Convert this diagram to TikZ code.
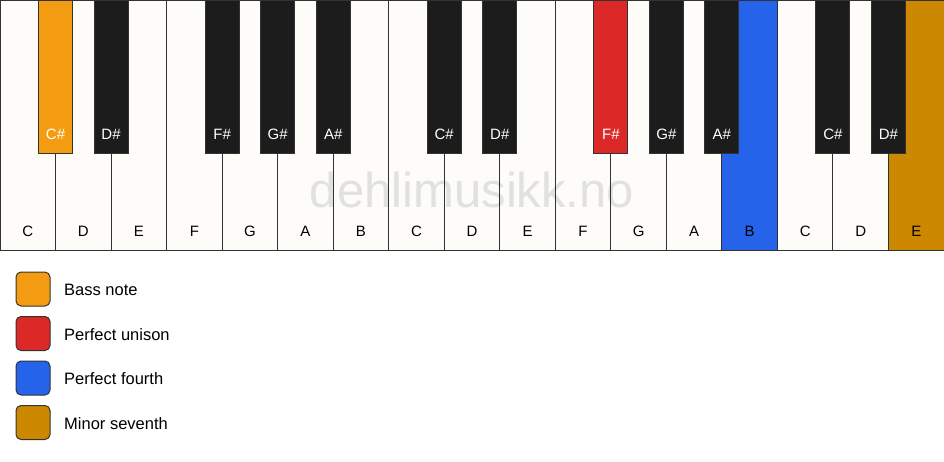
\documentclass[tikz,border=0pt]{standalone}
\usepackage{fontspec}
\setmainfont{Liberation Sans}
\definecolor{whitekey}{HTML}{FDFCF9}
\definecolor{blackkey}{HTML}{1C1C1C}
\definecolor{keyline}{HTML}{333333}
\definecolor{bassc}{HTML}{F39C12}
\definecolor{unisonc}{HTML}{DD2828}
\definecolor{fourthc}{HTML}{2563EB}
\definecolor{seventhc}{HTML}{CC8800}
\definecolor{wmark}{HTML}{E1E1E1}
\tikzset{
  wkey/.style={fill=whitekey, draw=none, minimum width=55.53pt, minimum height=250pt, anchor=north west, inner sep=0pt, outer sep=0pt},
  bkey/.style={fill=blackkey, draw=keyline, line width=1pt, minimum width=34pt, minimum height=153pt, anchor=north, inner sep=0pt, outer sep=0pt},
  wlabel/.style={anchor=base, inner sep=0pt, font=\fontsize{15}{18}\selectfont, text=black},
  blabel/.style={anchor=base, inner sep=0pt, font=\fontsize{15}{18}\selectfont, text=white},
  legbox/.style={draw=keyline, line width=1pt, rounded corners=5pt, minimum width=34pt, minimum height=34pt, inner sep=0pt},
  legtext/.style={anchor=west, inner sep=0pt, font=\fontsize{16.5}{19}\selectfont, text=black},
}
\begin{document}
\begin{tikzpicture}[x=1pt,y=-1pt]
\fill[white] (0,0) rectangle (944,461);
\useasboundingbox (0,0) rectangle (944,461);
% white keys fill
\foreach \n/\c in {0/whitekey,1/whitekey,2/whitekey,3/whitekey,4/whitekey,5/whitekey,6/whitekey,7/whitekey,8/whitekey,9/whitekey,10/whitekey,11/whitekey,12/whitekey,13/fourthc,14/whitekey,15/whitekey,16/seventhc}
  \node[wkey, fill=\c] (w\n) at ({\n*55.53},0) {};
% watermark
\node[anchor=base, inner sep=0pt, text=wmark, font=\fontsize{49}{52}\selectfont] (wm) at (472,207) {dehlimusikk.no};
% white key borders
\foreach \n in {0,...,16}
  \draw[keyline, line width=1pt] (w\n.north west) rectangle (w\n.south east);
% white key labels
\foreach \n/\l in {0/C,1/D,2/E,3/F,4/G,5/A,6/B,7/C,8/D,9/E,10/F,11/G,12/A,13/B,14/C,15/D,16/E}
  \node[wlabel] (lw\n) at ({(\n+0.5)*55.53},236) {\l};
% black keys
\foreach \n/\l/\c in {1/C/bassc,2/D/blackkey,4/F/blackkey,5/G/blackkey,6/A/blackkey,8/C/blackkey,9/D/blackkey,11/F/unisonc,12/G/blackkey,13/A/blackkey,15/C/blackkey,16/D/blackkey}{
  \node[bkey, fill=\c] (b\n) at ({\n*55.53},0) {};
  \node[blabel] (lb\n) at ({\n*55.53},139) {\l\#};
}
% legend
\node[legbox, fill=bassc] (g1) at (33,289) {};
\node[legtext] (t1) at (64,290) {Bass note};
\node[legbox, fill=unisonc] (g2) at (33,333.5) {};
\node[legtext] (t2) at (64,334.5) {Perfect unison};
\node[legbox, fill=fourthc] (g3) at (33,378) {};
\node[legtext] (t3) at (64,379) {Perfect fourth};
\node[legbox, fill=seventhc] (g4) at (33,422.5) {};
\node[legtext] (t4) at (64,423.5) {Minor seventh};
\end{tikzpicture}
\end{document}
